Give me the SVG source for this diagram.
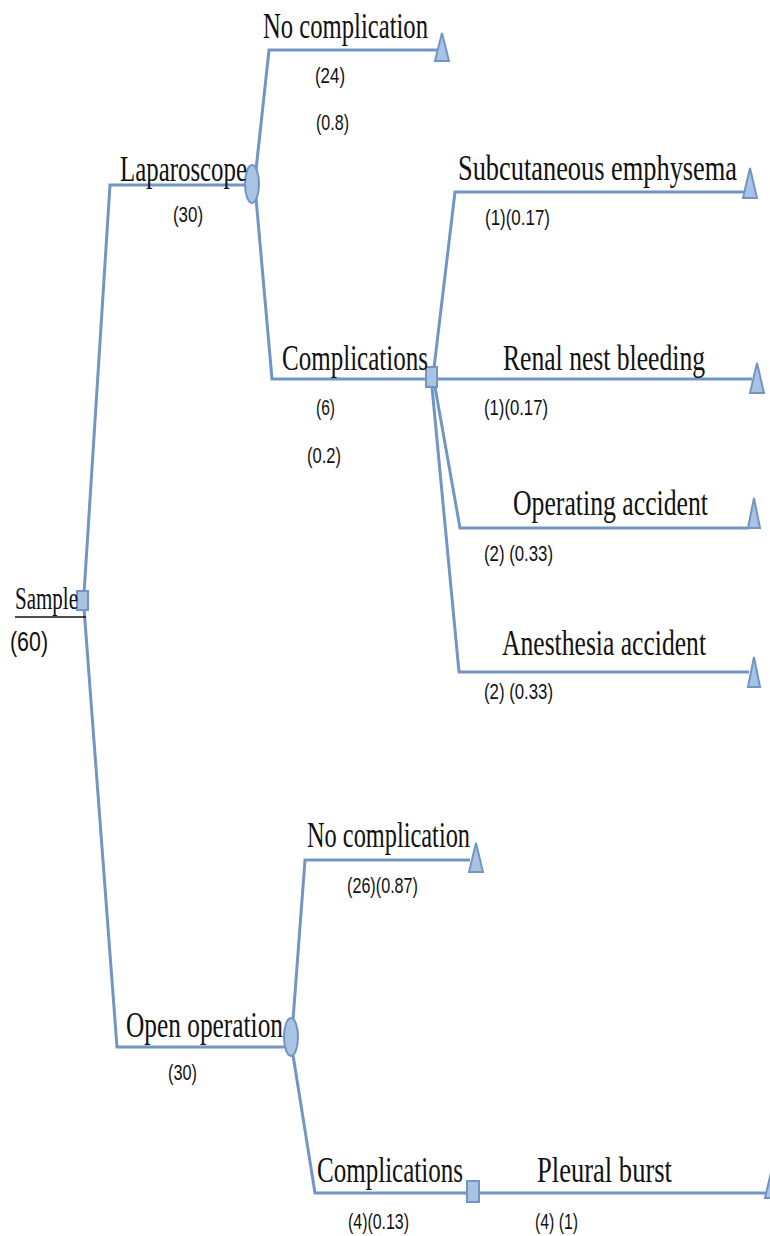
<svg xmlns="http://www.w3.org/2000/svg" width="770" height="1236" viewBox="0 0 770 1236">
<style>
.ln{fill:none;stroke:#7196c4;stroke-width:3;stroke-linejoin:miter}
.nd{fill:#a9c3e4;stroke:#7196c4;stroke-width:2}
.t{font-family:"Liberation Serif","DejaVu Serif",serif;font-size:24px;fill:#111}
.s{font-family:"Liberation Sans","DejaVu Sans",sans-serif;font-size:17px;fill:#111}
</style>
<rect width="770" height="1236" fill="#fff"/>
<g id="connectors">
<polyline class="ln" points="84,594 110,185 247,185"/>
<polyline class="ln" points="84,608 117,1047 285,1047"/>
<polyline class="ln" points="256,170 269,50 437,50"/>
<polyline class="ln" points="256,198 272,379 427,379"/>
<polyline class="ln" points="434,368 455,192 747,192"/>
<line class="ln" x1="437" y1="379" x2="752" y2="379"/>
<polyline class="ln" points="435,387 460,528 749,528"/>
<polyline class="ln" points="432,387 459,672 749,672"/>
<polyline class="ln" points="293,1020 305,860 470,860"/>
<polyline class="ln" points="293,1055 315,1193 468,1193"/>
<line class="ln" x1="480" y1="1193" x2="768" y2="1193"/>
</g>
<g id="sample">
<rect class="nd" x="77" y="591" width="11" height="19"/>
<text class="t" transform="translate(15,609) scale(1,1.55)" style="font-size:21px" textLength="63" lengthAdjust="spacingAndGlyphs">Sample</text>
<line x1="15" y1="617" x2="86" y2="617" stroke="#111" stroke-width="1.5"/>
<text class="s" transform="translate(10,651) scale(1,1.3)" style="font-size:21px" textLength="38" lengthAdjust="spacingAndGlyphs">(60)</text>
</g>
<g id="laparoscope">
<ellipse class="nd" cx="252" cy="184" rx="7" ry="19"/>
<text class="t" transform="translate(120,181) scale(1,1.5)" textLength="127" lengthAdjust="spacingAndGlyphs">Laparoscope</text>
<text class="s" transform="translate(173,222) scale(1,1.3)" textLength="30" lengthAdjust="spacingAndGlyphs">(30)</text>
</g>
<g id="lap-no-complication">
<polygon class="nd" points="442,33 435,61 449,61"/>
<text class="t" transform="translate(263,38) scale(1,1.5)" textLength="165" lengthAdjust="spacingAndGlyphs">No complication</text>
<text class="s" transform="translate(315,83) scale(1,1.3)" textLength="30" lengthAdjust="spacingAndGlyphs">(24)</text>
<text class="s" transform="translate(316,130) scale(1,1.3)" textLength="33" lengthAdjust="spacingAndGlyphs">(0.8)</text>
</g>
<g id="lap-complications">
<rect class="nd" x="426" y="367" width="11" height="20"/>
<text class="t" transform="translate(282,370) scale(1,1.5)" textLength="146" lengthAdjust="spacingAndGlyphs">Complications</text>
<text class="s" transform="translate(316,415) scale(1,1.3)" textLength="19" lengthAdjust="spacingAndGlyphs">(6)</text>
<text class="s" transform="translate(307,463) scale(1,1.3)" textLength="34" lengthAdjust="spacingAndGlyphs">(0.2)</text>
</g>
<g id="subcutaneous">
<polygon class="nd" points="750,168 743,198 757,198"/>
<text class="t" transform="translate(458,180) scale(1,1.5)" textLength="279" lengthAdjust="spacingAndGlyphs">Subcutaneous emphysema</text>
<text class="s" transform="translate(485,225) scale(1,1.3)" textLength="65" lengthAdjust="spacingAndGlyphs">(1)(0.17)</text>
</g>
<g id="renal">
<polygon class="nd" points="757,363 750,393 764,393"/>
<text class="t" transform="translate(503,370) scale(1,1.5)" textLength="202" lengthAdjust="spacingAndGlyphs">Renal nest bleeding</text>
<text class="s" transform="translate(484,415) scale(1,1.3)" textLength="64" lengthAdjust="spacingAndGlyphs">(1)(0.17)</text>
</g>
<g id="operating">
<polygon class="nd" points="754,498 748,528 760,528"/>
<text class="t" transform="translate(513,515) scale(1,1.5)" textLength="195" lengthAdjust="spacingAndGlyphs">Operating accident</text>
<text class="s" transform="translate(484,561) scale(1,1.3)" textLength="69" lengthAdjust="spacingAndGlyphs">(2) (0.33)</text>
</g>
<g id="anesthesia">
<polygon class="nd" points="754,657 748,687 760,687"/>
<text class="t" transform="translate(502,655) scale(1,1.5)" textLength="204" lengthAdjust="spacingAndGlyphs">Anesthesia accident</text>
<text class="s" transform="translate(484,699) scale(1,1.3)" textLength="69" lengthAdjust="spacingAndGlyphs">(2) (0.33)</text>
</g>
<g id="open-operation">
<ellipse class="nd" cx="291" cy="1037" rx="7" ry="19"/>
<text class="t" transform="translate(126,1037) scale(1,1.5)" textLength="157" lengthAdjust="spacingAndGlyphs">Open operation</text>
<text class="s" transform="translate(168,1080) scale(1,1.3)" textLength="29" lengthAdjust="spacingAndGlyphs">(30)</text>
</g>
<g id="open-no-complication">
<polygon class="nd" points="476,843 469,872 483,872"/>
<text class="t" transform="translate(307,847) scale(1,1.5)" textLength="163" lengthAdjust="spacingAndGlyphs">No complication</text>
<text class="s" transform="translate(347,893) scale(1,1.3)" textLength="71" lengthAdjust="spacingAndGlyphs">(26)(0.87)</text>
</g>
<g id="open-complications">
<rect class="nd" x="467" y="1181" width="12" height="21"/>
<text class="t" transform="translate(317,1182) scale(1,1.5)" textLength="146" lengthAdjust="spacingAndGlyphs">Complications</text>
<text class="s" transform="translate(348,1229) scale(1,1.3)" textLength="61" lengthAdjust="spacingAndGlyphs">(4)(0.13)</text>
</g>
<g id="pleural">
<polygon class="nd" points="772,1168 765,1198 779,1198"/>
<text class="t" transform="translate(537,1182) scale(1,1.5)" textLength="135" lengthAdjust="spacingAndGlyphs">Pleural burst</text>
<text class="s" transform="translate(535,1229) scale(1,1.3)" textLength="43" lengthAdjust="spacingAndGlyphs">(4) (1)</text>
</g>
</svg>
